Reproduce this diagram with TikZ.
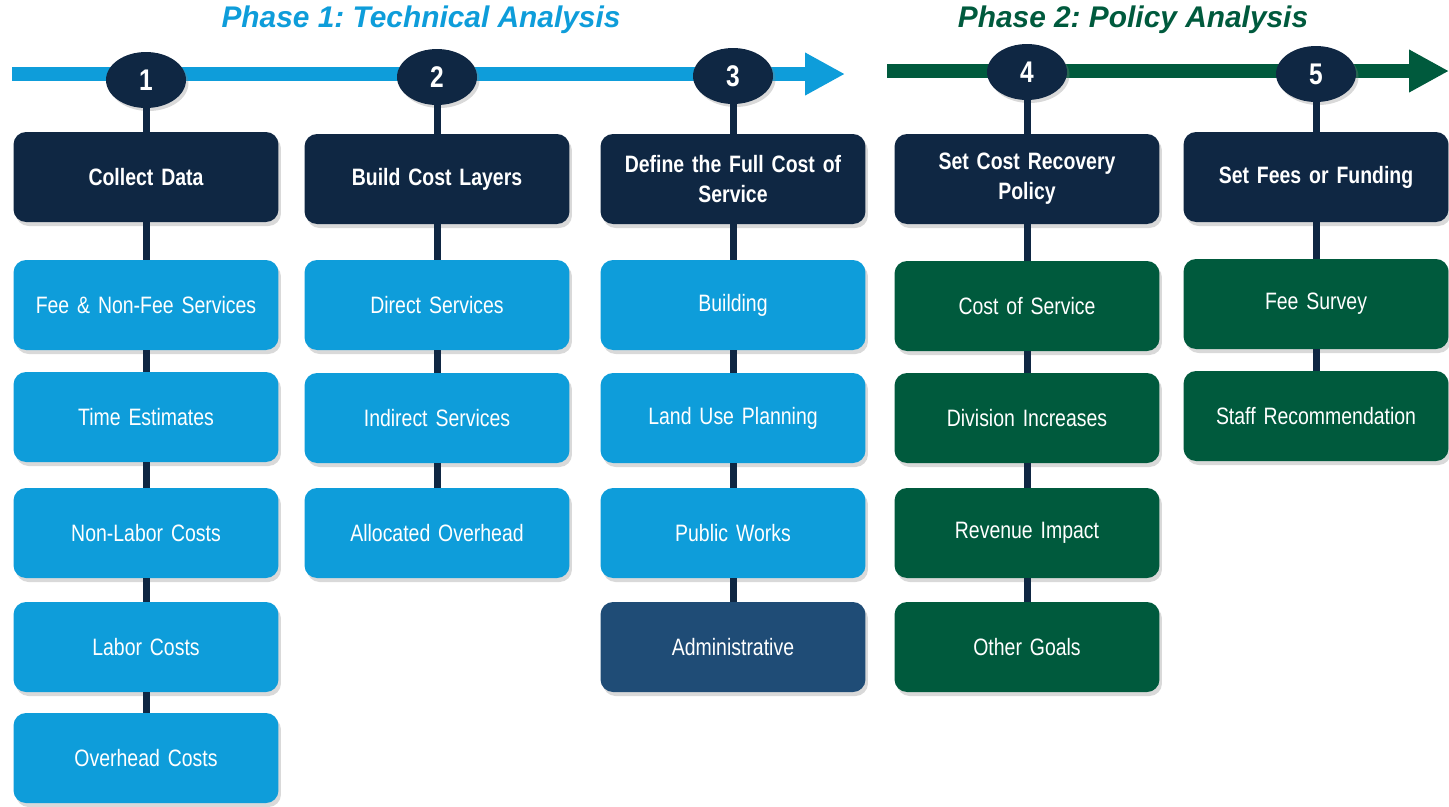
\documentclass[tikz,border=0pt]{standalone}
\usepackage{fontspec}
\setmainfont{Liberation Sans}
\newfontfamily\narrowfont{Liberation Sans}[FakeStretch=0.82,WordSpace=0.75]
\usetikzlibrary{shapes.geometric,shadows,arrows.meta}
\definecolor{navy}{HTML}{0F2743}
\definecolor{skyblue}{HTML}{0E9DDA}
\definecolor{forest}{HTML}{005A3D}
\definecolor{steel}{HTML}{1F4C76}
\frenchspacing

\begin{document}
\begin{tikzpicture}[x=0.02cm,y=-0.02cm,
  box/.style={rounded corners=0.25cm,minimum width=5.3cm,minimum height=1.8cm,
    text width=5cm,align=center,text=white,inner sep=0pt,
    font=\narrowfont\fontsize{13.5}{17}\selectfont,
    drop shadow={opacity=0.3,shadow xshift=0.05cm,shadow yshift=-0.08cm}},
  headbox/.style={box,fill=navy,font=\narrowfont\bfseries\fontsize{13.5}{17}\selectfont},
  techbox/.style={box,fill=skyblue},
  polbox/.style={box,fill=forest},
  num/.style={ellipse,fill=navy,text=white,minimum width=1.6cm,minimum height=1.12cm,
    inner sep=0pt,font=\narrowfont\bfseries\fontsize{17}{20}\selectfont,
    drop shadow={opacity=0.3,shadow xshift=0.05cm,shadow yshift=-0.06cm}},
  link/.style={navy,line width=0.14cm},
  phase/.style={line width=0.28cm,-{Triangle[length=0.8cm,width=0.8cm]}}]

\useasboundingbox (0,0) rectangle (1449,806);

% phase titles
\node (t1) at (421,20) {\fontsize{17}{20}\selectfont\bfseries\itshape\color{skyblue}Phase 1: Technical Analysis};
\node (t2) at (1133,20) {\fontsize{17}{20}\selectfont\bfseries\itshape\color{forest}Phase 2: Policy Analysis};

% time lines
\coordinate (p1s) at (12,74);
\coordinate (p1e) at (845,74);
\coordinate (p2s) at (887,71);
\coordinate (p2e) at (1449,71);
\draw[phase,skyblue] (p1s) -- (p1e);
\draw[phase,forest] (p2s) -- (p2e);

% step 1
\node[num] (n1) at (146,80) {1};
\node[headbox] (collect) at (146,177) {Collect Data};
\node[techbox] (fees) at (146,305) {Fee \& Non-Fee Services};
\node[techbox] (time) at (146,417) {Time Estimates};
\node[techbox] (nonlabor) at (146,533) {Non-Labor Costs};
\node[techbox] (labor) at (146,647) {Labor Costs};
\node[techbox] (overhead) at (146,758) {Overhead Costs};

% step 2
\node[num] (n2) at (437,77) {2};
\node[headbox] (layers) at (437,179) {Build Cost Layers};
\node[techbox] (direct) at (437,305) {Direct Services};
\node[techbox] (indirect) at (437,418) {Indirect Services};
\node[techbox] (allocated) at (437,533) {Allocated Overhead};

% step 3
\node[num] (n3) at (733,76) {3};
\node[headbox] (fullcost) at (733,179) {Define the Full Cost of\\Service};
\node[techbox] (building) at (733,305) {Building};
\node[techbox] (landuse) at (733,418) {Land Use Planning};
\node[techbox] (works) at (733,533) {Public Works};
\node[box,fill=steel] (admin) at (733,647) {Administrative};

% step 4
\node[num] (n4) at (1027,72) {4};
\node[headbox] (policy) at (1027,179) {Set Cost Recovery\\Policy};
\node[polbox] (service) at (1027,306) {Cost of Service};
\node[polbox] (division) at (1027,418) {Division Increases};
\node[polbox] (revenue) at (1027,533) {Revenue Impact};
\node[polbox] (goals) at (1027,647) {Other Goals};

% step 5
\node[num] (n5) at (1316,74) {5};
\node[headbox] (funding) at (1316,177) {Set Fees or Funding};
\node[polbox] (survey) at (1316,304) {Fee Survey};
\node[polbox] (staff) at (1316,416) {Staff Recommendation};

% links
\draw[link] (n1.south) -- (collect.north);
\draw[link] (collect.south) -- (fees.north);
\draw[link] (fees.south) -- (time.north);
\draw[link] (time.south) -- (nonlabor.north);
\draw[link] (nonlabor.south) -- (labor.north);
\draw[link] (labor.south) -- (overhead.north);

\draw[link] (n2.south) -- (layers.north);
\draw[link] (layers.south) -- (direct.north);
\draw[link] (direct.south) -- (indirect.north);
\draw[link] (indirect.south) -- (allocated.north);

\draw[link] (n3.south) -- (fullcost.north);
\draw[link] (fullcost.south) -- (building.north);
\draw[link] (building.south) -- (landuse.north);
\draw[link] (landuse.south) -- (works.north);
\draw[link] (works.south) -- (admin.north);

\draw[link] (n4.south) -- (policy.north);
\draw[link] (policy.south) -- (service.north);
\draw[link] (service.south) -- (division.north);
\draw[link] (division.south) -- (revenue.north);
\draw[link] (revenue.south) -- (goals.north);

\draw[link] (n5.south) -- (funding.north);
\draw[link] (funding.south) -- (survey.north);
\draw[link] (survey.south) -- (staff.north);

\end{tikzpicture}
\end{document}
